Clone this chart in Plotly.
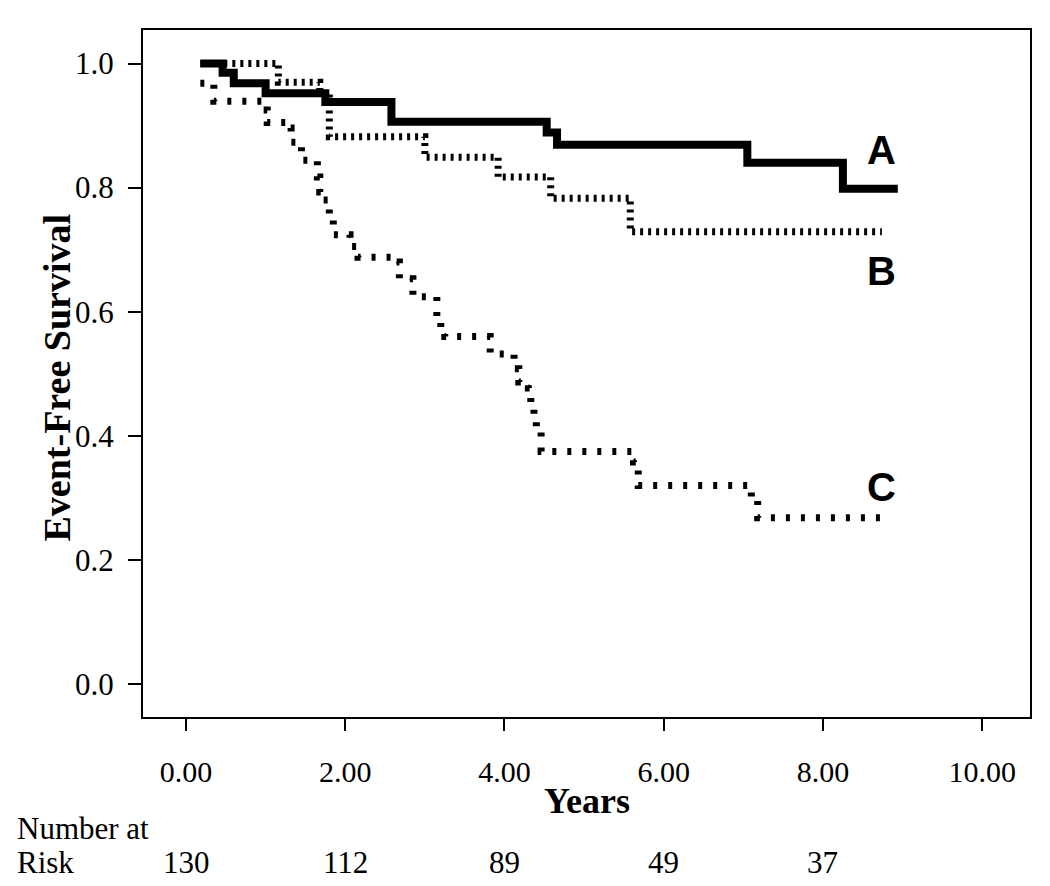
import plotly.graph_objects as go

# ---- data ----
a_years = [0.18, 0.46, 0.60, 1.00, 1.75, 2.58, 4.53, 4.66, 7.05, 8.25, 8.94]
a_surv = [1.000, 0.985, 0.968, 0.952, 0.938, 0.906, 0.889, 0.869, 0.840, 0.798, 0.798]

b_years = [0.18, 1.16, 1.68, 1.80, 3.00, 3.92, 4.58, 5.58, 8.74]
b_surv = [1.000, 0.970, 0.952, 0.882, 0.849, 0.817, 0.783, 0.729, 0.729]

c_years = [0.18, 0.35, 0.97, 1.02, 1.28, 1.32, 1.45, 1.65, 1.68, 1.72, 1.80, 1.85,
           2.06, 2.16, 2.62, 2.68, 2.85, 3.15, 3.20, 3.25, 3.82, 4.12, 4.18, 4.30,
           4.33, 4.37, 4.40, 4.46, 5.62, 5.68, 7.10, 7.18, 8.78]
c_surv = [0.968, 0.939, 0.925, 0.905, 0.896, 0.873, 0.844, 0.817, 0.793, 0.780, 0.748, 0.724,
          0.705, 0.688, 0.680, 0.653, 0.624, 0.592, 0.575, 0.560, 0.532, 0.508, 0.487, 0.477,
          0.453, 0.431, 0.410, 0.375, 0.358, 0.320, 0.300, 0.268, 0.268]

group_labels = ["A", "B", "C"]
label_x = [8.74, 8.74, 8.74]
label_y = [0.86, 0.666, 0.318]

x_ticks = [0, 2, 4, 6, 8, 10]
x_tick_text = ["0.00", "2.00", "4.00", "6.00", "8.00", "10.00"]
y_ticks = [0.0, 0.2, 0.4, 0.6, 0.8, 1.0]
y_tick_text = ["0.0", "0.2", "0.4", "0.6", "0.8", "1.0"]

risk_years = [0, 2, 4, 6, 8]
risk_counts = [130, 112, 89, 49, 37]

SERIF = "Liberation Serif, Times New Roman, serif"
SANS = "Liberation Sans, Arial, sans-serif"

fig = go.Figure()
fig.add_trace(go.Scatter(x=a_years, y=a_surv, mode="lines", line_shape="hv",
                         line=dict(color="black", width=8), showlegend=False))
fig.add_trace(go.Scatter(x=b_years, y=b_surv, mode="lines", line_shape="hv",
                         line=dict(color="black", width=7, dash="3px,5px"), showlegend=False))
fig.add_trace(go.Scatter(x=c_years, y=c_surv, mode="lines", line_shape="hv",
                         line=dict(color="black", width=7, dash="4px,11px"), showlegend=False))

annotations = []
for lab, lx, ly in zip(group_labels, label_x, label_y):
    annotations.append(dict(x=lx, y=ly, xref="x", yref="y", text=f"<b>{lab}</b>",
                            showarrow=False, font=dict(family=SANS, size=40, color="black"),
                            xanchor="center", yanchor="middle"))

# axis titles
annotations.append(dict(x=0.5, y=0, xref="paper", yref="paper", text="<b>Years</b>",
                        showarrow=False, font=dict(family=SERIF, size=36, color="black"),
                        xanchor="center", yanchor="middle", yshift=-84))
annotations.append(dict(x=0, y=0.5, xref="paper", yref="paper", text="<b>Event-Free Survival</b>",
                        showarrow=False, font=dict(family=SERIF, size=38, color="black"),
                        textangle=-90, xanchor="center", yanchor="middle", xshift=-87, yshift=-4))

# number at risk
annotations.append(dict(x=0, y=0, xref="paper", yref="paper", text="Number at",
                        showarrow=False, font=dict(family=SERIF, size=31, color="black"),
                        xanchor="left", yanchor="middle", xshift=-128, yshift=-111))
annotations.append(dict(x=0, y=0, xref="paper", yref="paper", text="Risk",
                        showarrow=False, font=dict(family=SERIF, size=31, color="black"),
                        xanchor="left", yanchor="middle", xshift=-128, yshift=-145))
for rx, rc in zip(risk_years, risk_counts):
    annotations.append(dict(x=rx, y=0, xref="x", yref="paper", text=str(rc),
                            showarrow=False, font=dict(family=SERIF, size=31, color="black"),
                            xanchor="center", yanchor="middle", yshift=-145))

fig.update_layout(
    width=1050, height=886,
    margin=dict(l=135, r=28, t=22, b=177),
    paper_bgcolor="white", plot_bgcolor="white",
    annotations=annotations,
    xaxis=dict(range=[-0.54, 10.6], tickvals=x_ticks, ticktext=x_tick_text,
               showgrid=False, zeroline=False, showline=True, mirror=True,
               linecolor="black", linewidth=2, ticks="outside", ticklen=12,
               tickwidth=2, tickcolor="black", ticklabelstandoff=15,
               tickfont=dict(family=SERIF, size=30, color="black")),
    yaxis=dict(range=[-0.053, 1.054], tickvals=y_ticks, ticktext=y_tick_text,
               showgrid=False, zeroline=False, showline=True, mirror=True,
               linecolor="black", linewidth=2, ticks="outside", ticklen=13,
               tickwidth=2, tickcolor="black", ticklabelstandoff=8,
               tickfont=dict(family=SERIF, size=31, color="black")),
)

fig.write_html("out.html")
